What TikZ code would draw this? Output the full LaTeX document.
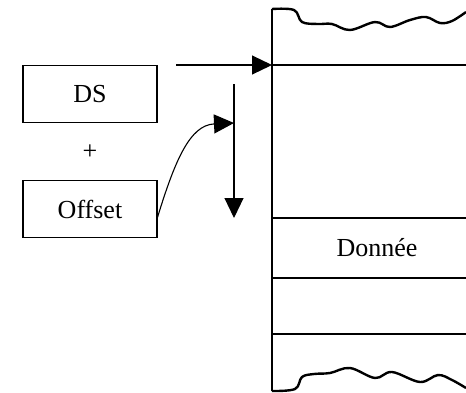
\documentclass[tikz,border=0pt]{standalone}
\usepackage{fontspec}
\setmainfont{Liberation Serif}
\usetikzlibrary{arrows.meta}
\begin{document}
\begin{tikzpicture}[x=1pt,y=-1pt,
  line width=1.1pt,
  box/.style={draw,line width=1.1pt,minimum width=134pt,minimum height=57pt,inner sep=0pt,font=\fontsize{26}{30}\selectfont},
  lbl/.style={font=\fontsize{26}{30}\selectfont,inner sep=0pt},
  big/.style={-{Triangle[length=20pt,width=19pt]}},
  wave/.style={line width=2.4pt,line join=round}]
\useasboundingbox (0,0) rectangle (466,392);
\node[box] (ds) at (90,94) {DS};
\node[lbl] (plus) at (90,152) {+};
\node[box] (off) at (90,209) {Offset};
\node[lbl] (donnee) at (377,248) {Donnée};
% memory column
\coordinate (ml) at (272,9);
\coordinate (mb) at (272,391);
\draw (ml) -- (mb);
\coordinate (h1) at (272,65);
\coordinate (h1e) at (466,65);
\coordinate (h2) at (272,218);
\coordinate (h2e) at (466,218);
\coordinate (h3) at (272,278);
\coordinate (h3e) at (466,278);
\coordinate (h4) at (272,334);
\coordinate (h4e) at (466,334);
\draw (h1) -- (h1e);
\draw (h2) -- (h2e);
\draw (h3) -- (h3e);
\draw (h4) -- (h4e);
\draw[wave] plot[smooth,tension=0.6] coordinates {(272,9) (294,10) (302,22) (318,24) (332,24) (350,30) (375,22) (390,27) (410,20) (426,17) (440,23) (452,21) (466,12)};
\draw[wave] plot[smooth,tension=0.6] coordinates {(272,391) (295,389) (302,377) (314,374) (330,373) (350,368) (375,378) (392,372) (420,382) (438,375) (452,380) (466,388)};
% arrows
\coordinate (a0) at (176,65);
\draw[big] (a0) -- (h1);
\coordinate (v0) at (234,84);
\coordinate (v1) at (234,218);
\draw[big] (v0) -- (v1);
\coordinate (c0) at (157,219);
\coordinate (c1) at (234,123);
\draw[big] (c0) .. controls (175,160) and (190,125) .. (c1);
\end{tikzpicture}
\end{document}
